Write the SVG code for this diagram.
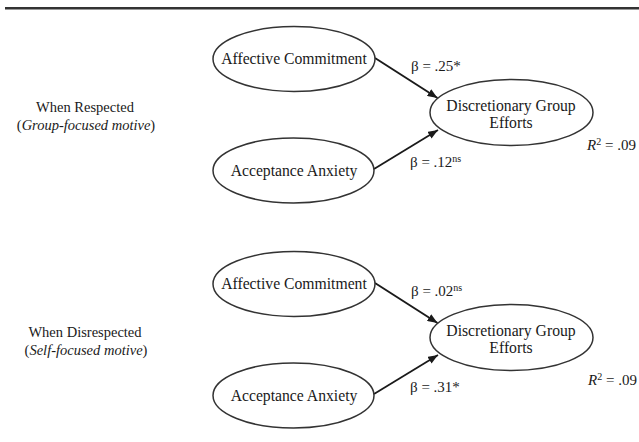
<svg xmlns="http://www.w3.org/2000/svg" width="639" height="442" viewBox="0 0 639 442">
<style>
text{font-family:"Liberation Serif","Times New Roman",serif;fill:#1a1a1a}
.node ellipse{fill:#fff;stroke:#333;stroke-width:1.5}
.nt{font-size:15.7px;text-anchor:middle}
.lab{font-size:14.5px;text-anchor:middle}
.b{font-size:15px}
.sup{font-size:10px}
.conn line{stroke:#1a1a1a;stroke-width:1.8}
</style>
<defs>
<marker id="ah" viewBox="0 0 10 8" refX="10" refY="4" markerWidth="10" markerHeight="8" markerUnits="userSpaceOnUse" orient="auto">
<path d="M0,0 L10,4 L0,8 Z" fill="#1a1a1a"/>
</marker>
</defs>
<rect x="5" y="7" width="634" height="2.5" fill="#333"/>

<g id="label-respected">
<text class="lab" x="85" y="112">When Respected</text>
<text class="lab" x="86" y="130">(<tspan font-style="italic">Group-focused motive</tspan>)</text>
</g>
<g id="label-disrespected">
<text class="lab" x="85" y="337">When Disrespected</text>
<text class="lab" x="86" y="355">(<tspan font-style="italic">Self-focused motive</tspan>)</text>
</g>

<g class="conn" id="connectors">
<line x1="375" y1="58" x2="437.5" y2="98" marker-end="url(#ah)"/>
<line x1="374" y1="169" x2="438" y2="130" marker-end="url(#ah)"/>
<line x1="375" y1="283" x2="437.5" y2="323" marker-end="url(#ah)"/>
<line x1="374" y1="394" x2="438" y2="355" marker-end="url(#ah)"/>
</g>

<g class="node" id="ac1">
<ellipse cx="294" cy="59" rx="81" ry="32.5"/>
<text class="nt" x="294" y="64">Affective Commitment</text>
</g>
<g class="node" id="aa1">
<ellipse cx="293.5" cy="170.5" rx="80.5" ry="32.5"/>
<text class="nt" x="294" y="176">Acceptance Anxiety</text>
</g>
<g class="node" id="dge1">
<ellipse cx="511.5" cy="112.5" rx="81.5" ry="33"/>
<text class="nt" x="511" y="111">Discretionary Group</text>
<text class="nt" x="511" y="128">Efforts</text>
</g>
<g class="node" id="ac2">
<ellipse cx="294" cy="284" rx="81" ry="32.5"/>
<text class="nt" x="294" y="289">Affective Commitment</text>
</g>
<g class="node" id="aa2">
<ellipse cx="293.5" cy="395.5" rx="80.5" ry="32.5"/>
<text class="nt" x="294" y="401">Acceptance Anxiety</text>
</g>
<g class="node" id="dge2">
<ellipse cx="511.5" cy="337.5" rx="81.5" ry="33"/>
<text class="nt" x="511" y="336">Discretionary Group</text>
<text class="nt" x="511" y="353">Efforts</text>
</g>

<g id="coefs">
<text class="b" x="411" y="71">β = .25*</text>
<text class="b" x="410" y="167">β = .12<tspan class="sup" dy="-5">ns</tspan></text>
<text class="b" x="411" y="296">β = .02<tspan class="sup" dy="-5">ns</tspan></text>
<text class="b" x="410" y="392">β = .31*</text>
<text class="b" x="587" y="150"><tspan font-style="italic">R</tspan><tspan class="sup" dy="-5">2</tspan><tspan dy="5"> = .09</tspan></text>
<text class="b" x="588" y="385"><tspan font-style="italic">R</tspan><tspan class="sup" dy="-5">2</tspan><tspan dy="5"> = .09</tspan></text>
</g>
</svg>
